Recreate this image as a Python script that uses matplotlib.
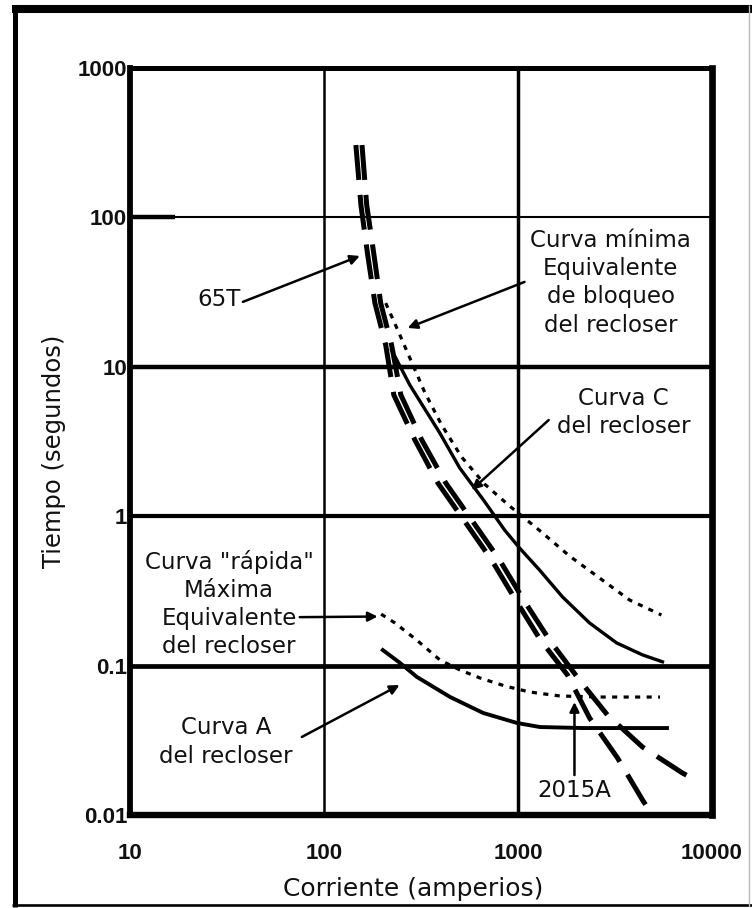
import matplotlib
matplotlib.use("Agg")
import matplotlib.pyplot as plt
from matplotlib.lines import Line2D

# ---- data: current (A) vs time (s) ----
# 65T fuse: minimum melting and total clearing
fuse_melt_i = [146, 155, 168, 183, 208, 229, 294, 386, 525, 731, 972, 1307, 1800, 2339, 3258, 4385, 5047]
fuse_melt_t = [305, 121, 56, 26.7, 14.0, 6.48, 3.24, 1.67, 0.944, 0.509, 0.275, 0.148, 0.0865, 0.0446, 0.0241, 0.0126, 0.0095]
fuse_clear_i = [157, 166, 181, 196, 223, 249, 319, 424, 577, 804, 1069, 1455, 2075, 2891, 4385, 7042, 8610]
fuse_clear_t = [305, 121, 56, 26.7, 14.0, 6.48, 3.24, 1.67, 0.944, 0.509, 0.275, 0.148, 0.080, 0.0467, 0.0285, 0.0191, 0.0166]

# recloser: minimum equivalent lockout curve
min_i = [208, 240, 280, 330, 404, 512, 673, 905, 1247, 1844, 2632, 3755, 5489]
min_t = [26.7, 17.6, 11.1, 6.78, 4.08, 2.49, 1.64, 1.17, 0.834, 0.541, 0.386, 0.275, 0.218]

# recloser curve C
c_i = [223, 277, 395, 501, 665, 853, 1019, 1292, 1697, 2337, 3219, 4381, 5554]
c_t = [12.95, 7.55, 3.61, 2.10, 1.28, 0.808, 0.612, 0.436, 0.288, 0.193, 0.142, 0.118, 0.106]

# recloser maximum equivalent "fast" curve
fast_i = [197, 232, 301, 396, 502, 637, 857, 1153, 1645, 2648, 5395]
fast_t = [0.221, 0.193, 0.148, 0.109, 0.0935, 0.0826, 0.073, 0.0665, 0.0626, 0.0616, 0.0616]

# recloser curve A
a_i = [201, 247, 301, 446, 661, 988, 1297, 2163, 5860]
a_t = [0.127, 0.104, 0.084, 0.0617, 0.0482, 0.0413, 0.0388, 0.0382, 0.0382]

x_ticks = [10, 100, 1000, 10000]
x_labels = ["10", "100", "1000", "10000"]
y_ticks = [0.01, 0.1, 1, 10, 100, 1000]
y_labels = ["0.01", "0.1", "1", "10", "100", "1000"]

fault_current = 2015

# ---- figure ----
W, H = 752, 908
fig = plt.figure(figsize=(W / 100, H / 100), dpi=100)
fig.patch.set_facecolor("white")
ax = fig.add_axes([130 / W, 1 - 815 / H, 582 / W, 747 / H])
ax.set_xscale("log")
ax.set_yscale("log")
ax.set_xlim(10, 10000)
ax.set_ylim(0.01, 1000)
ax.minorticks_off()
ax.set_xticks(x_ticks)
ax.set_xticklabels(x_labels)
ax.set_yticks(y_ticks)
ax.set_yticklabels(y_labels)
ax.tick_params(length=0)
ax.tick_params(axis="x", pad=20)
ax.tick_params(axis="y", pad=2)
for lab in ax.get_xticklabels() + ax.get_yticklabels():
    lab.set_fontfamily("Liberation Sans")
    lab.set_fontweight("bold")
    lab.set_fontsize(16)
    lab.set_color("#111111")

# frame
for side, w in {"left": 4.2, "right": 4.8, "top": 3.6, "bottom": 4.6}.items():
    ax.spines[side].set_linewidth(w)
    ax.spines[side].set_color("black")

# inner grid
grid_h = {100: 1.5, 10: 3.2, 1: 3.0, 0.1: 3.4}
grid_v = {100: 1.8, 1000: 2.5}
for y, w in grid_h.items():
    ax.axhline(y, color="black", lw=w, zorder=1)
for x, w in grid_v.items():
    ax.axvline(x, color="black", lw=w, zorder=1)
ax.plot([10, 17], [100, 100], color="black", lw=3.2, zorder=1, solid_capstyle="butt")

# curves
ax.plot(fuse_melt_i, fuse_melt_t, color="black", lw=3.6, dashes=(7, 3), zorder=3)
ax.plot(fuse_clear_i, fuse_clear_t, color="black", lw=3.6, dashes=(7, 3), zorder=3)
ax.plot(min_i, min_t, color="black", lw=2.3, dashes=(1.6, 2.0), zorder=3)
ax.plot(c_i, c_t, color="black", lw=2.4, zorder=3)
ax.plot(fast_i, fast_t, color="black", lw=2.3, dashes=(1.6, 2.0), zorder=3)
ax.plot(a_i, a_t, color="black", lw=2.8, zorder=3)

# annotations
txt = dict(family="DejaVu Sans", fontsize=16.5, color="#111111",
           ha="center", va="center", multialignment="center", linespacing=1.28, zorder=5)
arrow = dict(arrowstyle="-|>", color="black", lw=1.8, mutation_scale=14,
             shrinkA=0, shrinkB=0)

ax.text(28.7, 28.0, "65T", **txt)
ax.annotate("", xy=(153, 55.2), xytext=(38.2, 27.2), arrowprops=arrow, zorder=5)

ax.text(3000, 36.4, "Curva mínima\nEquivalente\nde bloqueo\ndel recloser", **txt)
ax.annotate("", xy=(270, 18.2), xytext=(1081, 37.0), arrowprops=arrow, zorder=5)

ax.text(3500, 4.98, "Curva C\ndel recloser", **txt)
ax.annotate("", xy=(577, 1.50), xytext=(1439, 4.40), arrowprops=arrow, zorder=5)

ax.text(32.4, 0.258, "Curva \"rápida\"\nMáxima\nEquivalente\ndel recloser", **txt)
ax.annotate("", xy=(189, 0.213), xytext=(75, 0.211), arrowprops=arrow, zorder=5)

ax.text(31.2, 0.0308, "Curva A\ndel recloser", **txt)
ax.annotate("", xy=(245, 0.0741), xytext=(76.9, 0.0333), arrowprops=arrow, zorder=5)

ax.text(fault_current * 0.97, 0.0147, f"{fault_current}A", **txt)
ax.annotate("", xy=(fault_current * 0.97, 0.057), xytext=(fault_current * 0.97, 0.0185),
            arrowprops=arrow, zorder=5)

# axis titles
fig.text(54 / W, 1 - 451 / H, "Tiempo (segundos)", rotation=90, ha="center", va="center",
         family="DejaVu Sans", fontsize=17.5, color="#111111")
fig.text(413 / W, 1 - 889 / H, "Corriente (amperios)", ha="center", va="center",
         family="DejaVu Sans", fontsize=18, color="#111111")


# outer border
def fig_line(xs, ys, lw, color="black"):
    fig.add_artist(Line2D([x / W for x in xs], [1 - y / H for y in ys],
                          transform=fig.transFigure, lw=lw, color=color,
                          solid_capstyle="butt"))


fig_line([12, 752], [9, 9], 5.8)
fig_line([15, 15], [5, 907], 3.6)
fig_line([12, 752], [905, 905], 1.9)
fig_line([749, 749], [5, 907], 1.0, color="#bbbbbb")

fig.savefig("out.png", dpi=100, facecolor="white")
